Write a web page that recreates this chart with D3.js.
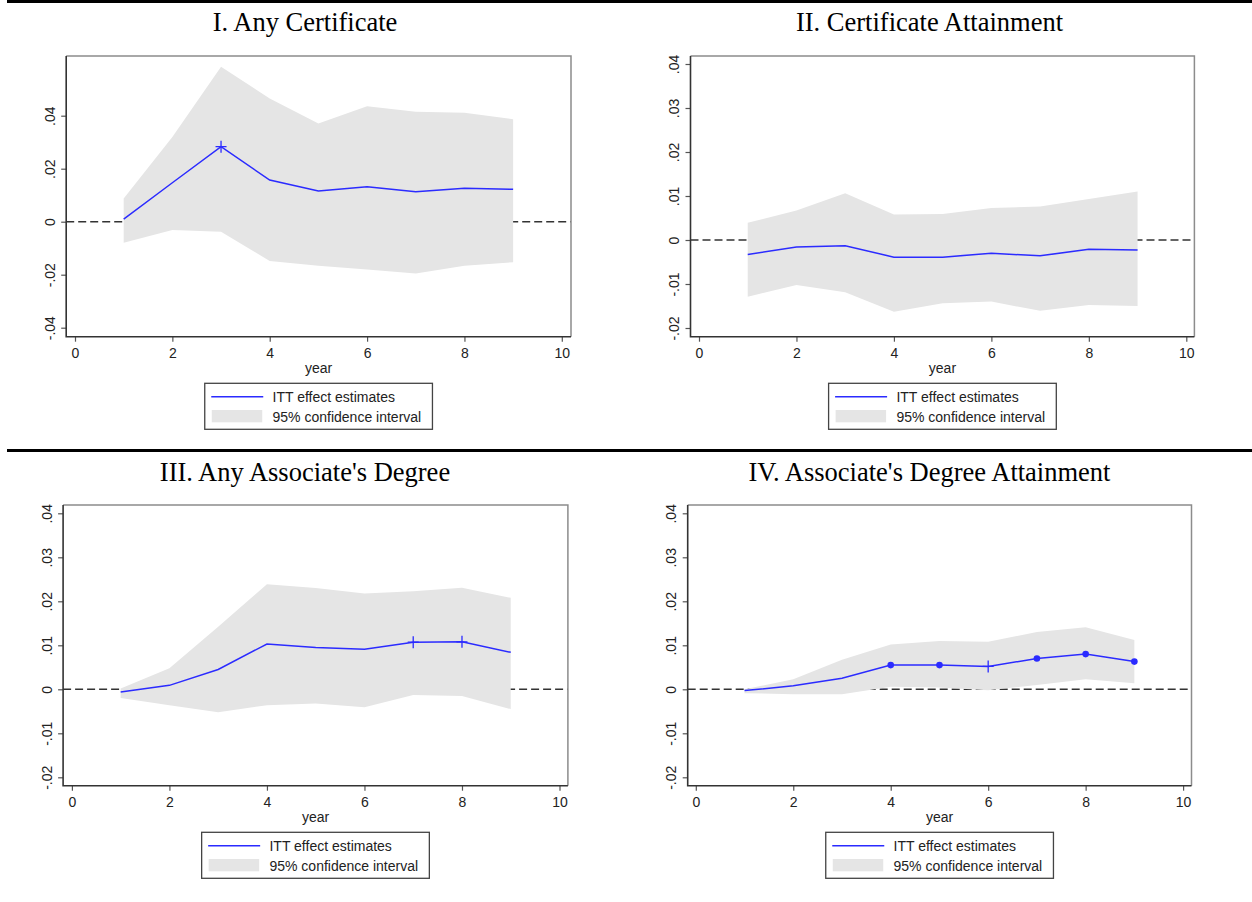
<!DOCTYPE html>
<html>
<head>
<meta charset="utf-8">
<script src="https://cdn.jsdelivr.net/npm/d3@7"></script>
<style>
  body { margin: 0; background: #fff; }
  svg { display: block; }
</style>
</head>
<body>
<svg id="chart" width="1252" height="902"></svg>
<script>
// ---- data ----
const years = [1, 2, 3, 4, 5, 6, 7, 8, 9];

const anyCertEst = [0.0010, 0.0147, 0.0283, 0.0157, 0.0116, 0.0132, 0.0113, 0.0126, 0.0122];
const anyCertLo  = [-0.0079, -0.0031, -0.0038, -0.0148, -0.0166, -0.0180, -0.0195, -0.0166, -0.0153];
const anyCertHi  = [0.0088, 0.0320, 0.0585, 0.0465, 0.0371, 0.0436, 0.0415, 0.0411, 0.0387];
const anyCertMark = ['', '', '+', '', '', '', '', '', ''];

const certAttEst = [-0.0033, -0.0016, -0.0013, -0.0039, -0.0039, -0.0030, -0.0036, -0.0021, -0.0023];
const certAttLo  = [-0.0129, -0.0102, -0.0119, -0.0163, -0.0144, -0.0140, -0.0161, -0.0148, -0.0150];
const certAttHi  = [0.0039, 0.0067, 0.0106, 0.0058, 0.0059, 0.0073, 0.0076, 0.0093, 0.0110];
const certAttMark = ['', '', '', '', '', '', '', '', ''];

const anyAssocEst = [-0.0006, 0.0009, 0.0045, 0.0103, 0.0095, 0.0091, 0.0107, 0.0108, 0.0084];
const anyAssocLo  = [-0.0020, -0.0036, -0.0052, -0.0036, -0.0032, -0.0041, -0.0013, -0.0015, -0.0045];
const anyAssocHi  = [0.0002, 0.0048, 0.0142, 0.0239, 0.0230, 0.0218, 0.0223, 0.0231, 0.0208];
const anyAssocMark = ['', '', '', '', '', '', '+', '+', ''];

const assocAttEst = [-0.0003, 0.0008, 0.0025, 0.0055, 0.0055, 0.0052, 0.0070, 0.0080, 0.0063];
const assocAttLo  = [-0.0009, -0.0011, -0.0011, 0.0006, 0.0004, -0.0002, 0.0010, 0.0023, 0.0014];
const assocAttHi  = [0.0000, 0.0023, 0.0067, 0.0102, 0.0110, 0.0108, 0.0130, 0.0141, 0.0112];
const assocAttMark = ['', '', '', 'o', 'o', '+', 'o', 'o', 'o'];

const xTicks = [0, 2, 4, 6, 8, 10];
const yTicksWide = [-0.04, -0.02, 0, 0.02, 0.04];
const yTicksNarrow = [-0.02, -0.01, 0, 0.01, 0.02, 0.03, 0.04];

const titles = ['I. Any Certificate', 'II. Certificate Attainment',
                'III. Any Associate\'s Degree', 'IV. Associate\'s Degree Attainment'];
const legendLabels = ['ITT effect estimates', '95% confidence interval'];

// ---- layout of each panel (pixel frame + where ticks land) ----
const panels = [
  { title: titles[0], est: anyCertEst, lo: anyCertLo, hi: anyCertHi, mark: anyCertMark, yTicks: yTicksWide,
    frame: [66.2, 56, 571, 336.7], x0: 75, x10: 561.8, y0: 221.7, yTop: 115.7, titleX: 305, titleY: 31 },
  { title: titles[1], est: certAttEst, lo: certAttLo, hi: certAttHi, mark: certAttMark, yTicks: yTicksNarrow,
    frame: [690.5, 56, 1194.4, 336.7], x0: 699, x10: 1186.3, y0: 240, yTop: 64, titleX: 929.5, titleY: 31 },
  { title: titles[2], est: anyAssocEst, lo: anyAssocLo, hi: anyAssocHi, mark: anyAssocMark, yTicks: yTicksNarrow,
    frame: [63.1, 505, 567.9, 785.7], x0: 71.9, x10: 559.5, y0: 689.3, yTop: 513.3, titleX: 305, titleY: 481 },
  { title: titles[3], est: assocAttEst, lo: assocAttLo, hi: assocAttHi, mark: assocAttMark, yTicks: yTicksNarrow,
    frame: [687.7, 505, 1191.5, 785.7], x0: 695.8, x10: 1183.1, y0: 689.3, yTop: 513.3, titleX: 929.5, titleY: 481 }
];

const svg = d3.select('#chart');
const blue = '#2b2bff';
const band = '#e5e5e5';
const sans = 'Arial, "Liberation Sans", sans-serif';

// horizontal rules above each row
svg.append('rect').attr('x', 7).attr('y', 0).attr('width', 1245).attr('height', 3).attr('fill', '#000');
svg.append('rect').attr('x', 7).attr('y', 449).attr('width', 1245).attr('height', 3).attr('fill', '#000');

// stata style number: .04, -.02, 0 (plain hyphen for minus)
function stataFmt(v) {
  if (Math.abs(v) < 1e-9) return '0';
  return d3.format('.2f')(v).replace('0.', '.').replace('\u2212', '-');
}

panels.forEach(p => {
  const [fl, ft, fr, fb] = p.frame;
  const topTick = p.yTicks[p.yTicks.length - 1];
  const x = d3.scaleLinear().domain([0, 10]).range([p.x0, p.x10]);
  const y = d3.scaleLinear().domain([0, topTick]).range([p.y0, p.yTop]);
  const g = svg.append('g');

  g.append('text')
    .attr('x', p.titleX).attr('y', p.titleY)
    .attr('text-anchor', 'middle')
    .attr('font-family', '"Liberation Serif", "Times New Roman", serif')
    .attr('font-size', 26.5)
    .attr('fill', '#000')
    .text(p.title);

  const clipId = 'clip' + Math.round(fl);
  g.append('clipPath').attr('id', clipId)
    .append('rect').attr('x', fl).attr('y', ft).attr('width', fr - fl).attr('height', fb - ft);

  const plot = g.append('g').attr('clip-path', `url(#${clipId})`);

  // zero reference line
  plot.append('line')
    .attr('x1', fl).attr('x2', fr)
    .attr('y1', y(0)).attr('y2', y(0))
    .attr('stroke', '#333').attr('stroke-width', 1.4)
    .attr('stroke-dasharray', '8,4');

  // confidence band
  const area = d3.area()
    .x((d, i) => x(years[i]))
    .y0((d, i) => y(p.lo[i]))
    .y1((d, i) => y(p.hi[i]));
  plot.append('path').datum(years)
    .attr('d', area)
    .attr('fill', band);

  // estimate line
  const line = d3.line()
    .x((d, i) => x(years[i]))
    .y((d, i) => y(p.est[i]));
  plot.append('path').datum(years)
    .attr('d', line)
    .attr('fill', 'none')
    .attr('stroke', blue)
    .attr('stroke-width', 1.5);

  // markers for significant estimates
  years.forEach((yr, i) => {
    const cx = x(yr), cy = y(p.est[i]);
    if (p.mark[i] === 'o') {
      plot.append('circle').attr('cx', cx).attr('cy', cy).attr('r', 3.3).attr('fill', blue);
    } else if (p.mark[i] === '+') {
      plot.append('path')
        .attr('d', `M${cx - 5.5},${cy}H${cx + 5.5}M${cx},${cy - 6}V${cy + 6}`)
        .attr('stroke', blue).attr('stroke-width', 1.3).attr('fill', 'none');
    }
  });

  // frame: light top/right, dark axes left/bottom
  g.append('path')
    .attr('d', `M${fl},${ft}H${fr}V${fb}`)
    .attr('fill', 'none').attr('stroke', '#8c8c8c').attr('stroke-width', 1.5);

  const xAxis = d3.axisBottom(x).tickValues(xTicks).tickSize(5).tickFormat(d3.format('d'));
  const ax = g.append('g').attr('transform', `translate(0,${fb})`).call(xAxis);
  ax.select('.domain').remove();
  ax.selectAll('.tick line').attr('stroke', '#555').attr('stroke-width', 1.2);
  ax.selectAll('.tick text')
    .attr('font-family', sans).attr('font-size', 14).attr('fill', '#222')
    .attr('dy', null).attr('y', 21.5);

  const yAxis = d3.axisLeft(y).tickValues(p.yTicks).tickSize(5).tickFormat(stataFmt);
  const ay = g.append('g').attr('transform', `translate(${fl},0)`).call(yAxis);
  ay.select('.domain').remove();
  ay.selectAll('.tick line').attr('stroke', '#555').attr('stroke-width', 1.2);
  ay.selectAll('.tick text')
    .attr('font-family', sans).attr('font-size', 14).attr('fill', '#222')
    .attr('x', null).attr('dy', null)
    .attr('text-anchor', 'middle')
    .attr('transform', 'translate(-11.5,0) rotate(-90)');

  g.append('path')
    .attr('d', `M${fl},${ft}V${fb}H${fr}`)
    .attr('fill', 'none').attr('stroke', '#333').attr('stroke-width', 1.6);

  // axis title
  const cxFrame = (fl + fr) / 2;
  g.append('text')
    .attr('x', cxFrame).attr('y', fb + 36.5)
    .attr('text-anchor', 'middle')
    .attr('font-family', sans).attr('font-size', 14).attr('fill', '#222')
    .text('year');

  // legend
  const lw = 227.7, lh = 46;
  const lx = cxFrame - lw / 2, ly = fb + 46.6;
  const leg = g.append('g').attr('transform', `translate(${lx},${ly})`);
  leg.append('rect').attr('width', lw).attr('height', lh)
    .attr('fill', '#fff').attr('stroke', '#444').attr('stroke-width', 1.3);
  leg.append('line').attr('x1', 6.5).attr('x2', 58.5).attr('y1', 13.4).attr('y2', 13.4)
    .attr('stroke', blue).attr('stroke-width', 1.5);
  leg.append('rect').attr('x', 7).attr('y', 26.7).attr('width', 50.5).attr('height', 12.3)
    .attr('fill', band);
  leg.selectAll('text.lab').data(legendLabels).enter().append('text')
    .attr('class', 'lab')
    .attr('x', 67.8)
    .attr('y', (d, i) => 18.5 + i * 19.8)
    .attr('font-family', sans).attr('font-size', 14).attr('fill', '#222')
    .text(d => d);
});
</script>
</body>
</html>
